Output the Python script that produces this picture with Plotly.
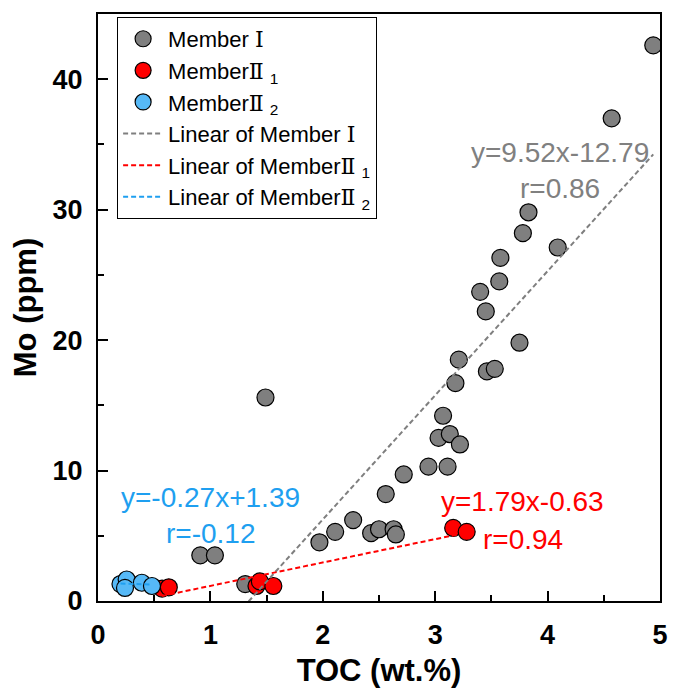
import plotly.graph_objects as go

# ---- data ----
m1_toc = [4.94, 4.57, 3.83, 3.78, 4.09, 3.58, 3.57, 3.40, 3.45, 3.75, 3.21, 3.46, 3.53,
          3.18, 3.07, 3.03, 3.13, 3.22, 2.94, 3.11, 2.72, 2.56, 2.27, 2.11, 1.97, 2.43,
          2.50, 2.63, 2.65, 1.49, 0.91, 1.04, 1.31]
m1_mo = [42.6, 37.0, 29.8, 28.2, 27.1, 26.3, 24.5, 23.7, 22.2, 19.8, 18.5, 17.6, 17.8,
         16.7, 14.2, 12.5, 12.8, 12.0, 10.3, 10.3, 9.7, 8.2, 6.2, 5.3, 4.5, 5.2,
         5.5, 5.5, 5.1, 15.6, 3.5, 3.5, 1.3]

m21_toc = [0.57, 0.63, 1.41, 1.44, 1.56, 3.16, 3.28]
m21_mo = [0.95, 1.05, 1.15, 1.5, 1.15, 5.6, 5.3]

m22_toc = [0.20, 0.255, 0.24, 0.39, 0.48]
m22_mo = [1.3, 1.65, 1.0, 1.4, 1.15]

# fit parameters shown on the chart: slope, intercept, r
fit_m1 = [9.52, -12.79, 0.86]
fit_m21 = [1.79, -0.63, 0.94]
fit_m22 = [-0.27, 1.39, -0.12]

x_ticks = [0, 1, 2, 3, 4, 5]
y_ticks = [0, 10, 20, 30, 40]

GRAY = "#7f7f7f"
RED = "#ff0000"
BLUE_M = "#56b9f7"
BLUE_T = "#1e9ff0"
FONT = "Liberation Sans, Arial, sans-serif"
SERIF = "<span style=\"font-family:'DejaVu Serif'\">{}</span>"
R1 = SERIF.format("Ⅰ")
R2 = SERIF.format("Ⅱ")


def fit_line(xs, p):
    xr = [min(xs), max(xs)]
    return xr, [p[0] * v + p[1] for v in xr]


def eq_text(p):
    sign = "+" if p[1] >= 0 else "-"
    return f"y={p[0]:.2f}x{sign}{abs(p[1]):.2f}", f"r={p[2]:.2f}"


fig = go.Figure()
mk = dict(size=17, line=dict(color="black", width=1.2))
fig.add_trace(go.Scatter(x=m1_toc, y=m1_mo, mode="markers", name="Member " + R1,
                         marker=dict(color=GRAY, **mk)))
fig.add_trace(go.Scatter(x=m21_toc, y=m21_mo, mode="markers", name="Member" + R2 + " <sub>1</sub>",
                         marker=dict(color=RED, **mk)))
fig.add_trace(go.Scatter(x=m22_toc, y=m22_mo, mode="markers", name="Member" + R2 + " <sub>2</sub>",
                         marker=dict(color=BLUE_M, **mk)))

for xs, p, col, nm in [(m1_toc, fit_m1, GRAY, "Linear of Member " + R1),
                       (m21_toc, fit_m21, RED, "Linear of Member" + R2 + " <sub>1</sub>"),
                       (m22_toc, fit_m22, BLUE_T, "Linear of Member" + R2 + " <sub>2</sub>")]:
    lx, ly = fit_line(xs, p)
    fig.add_trace(go.Scatter(x=lx, y=ly, mode="lines", name=nm,
                             line=dict(color=col, width=2, dash="5px,3px")))

# equation annotations
for p, col, pos in [(fit_m1, "#808080", (4.11, 34.4, 31.6)),
                    (fit_m21, RED, (3.78, 7.6, 4.75)),
                    (fit_m22, BLUE_T, (1.005, 7.9, 5.2))]:
    t1, t2 = eq_text(p)
    fig.add_annotation(x=pos[0], y=pos[1], text=t1, showarrow=False,
                       font=dict(size=28, color=col, family=FONT))
    fig.add_annotation(x=pos[0], y=pos[2], text=t2, showarrow=False,
                       font=dict(size=28, color=col, family=FONT))

axis_common = dict(showline=True, linecolor="black", linewidth=2, mirror=True,
                   ticks="inside", ticklen=10, tickwidth=2, tickcolor="black",
                   showgrid=False, zeroline=False,
                   tickfont=dict(size=27, family=FONT, color="black", weight="bold"),
                   title_font=dict(size=31, family=FONT, color="black", weight="bold"))

fig.update_xaxes(range=[0, 5], tickvals=x_ticks, ticktext=[str(v) for v in x_ticks],
                 title_text="TOC (wt.%)", ticklabelstandoff=9, title_standoff=10,
                 minor=dict(ticks="inside", ticklen=6, tickwidth=2, tickcolor="black", dtick=0.5),
                 **axis_common)
fig.update_yaxes(range=[0, 45], tickvals=y_ticks, ticktext=[str(v) for v in y_ticks],
                 title_text="Mo (ppm)", ticklabelstandoff=8, title_standoff=8,
                 minor=dict(ticks="inside", ticklen=6, tickwidth=2, tickcolor="black", dtick=5),
                 **axis_common)

# page body adds ~8px offset: figure sized so the plot area lands where the reference has it
fig.update_layout(
    width=673, height=687,
    margin=dict(l=90, r=21, t=4, b=94),
    paper_bgcolor="white", plot_bgcolor="white",
    font=dict(family=FONT, color="black"),
    showlegend=True,
    legend=dict(x=0.034, y=0.995, xanchor="left", yanchor="top",
                bgcolor="white", bordercolor="black", borderwidth=1,
                font=dict(size=22, family=FONT, color="black"),
                itemwidth=40, tracegroupgap=0),
)

fig.write_html("out.html")
